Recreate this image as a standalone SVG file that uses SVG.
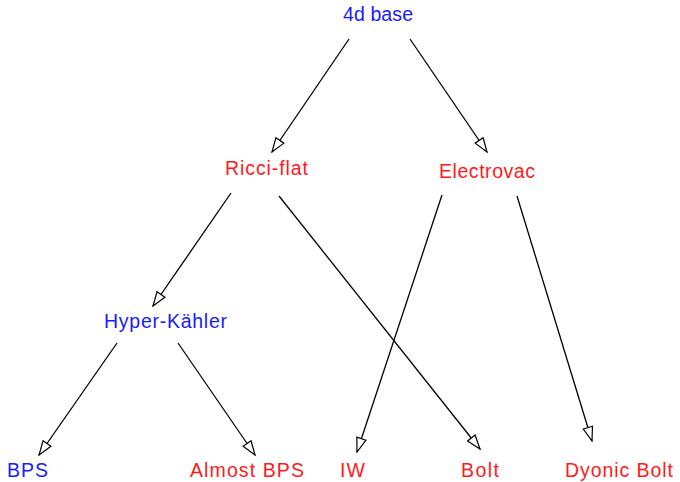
<svg xmlns="http://www.w3.org/2000/svg" width="680" height="482" viewBox="0 0 680 482">
<style>
text{font-family:"Liberation Sans",Arial,sans-serif;font-size:19.5px}
.b{fill:#1a1aff}
.r{fill:#ff1a1a}
.e line{stroke:#000;stroke-width:1.3;fill:none;marker-end:url(#ah)}
</style>
<defs>
<marker id="ah" viewBox="0 0 16 12" refX="15" refY="6" markerWidth="16" markerHeight="12" markerUnits="userSpaceOnUse" orient="auto">
<path d="M1,1.2 L15,6 L1,10.8 Z" fill="#fff" stroke="#000" stroke-width="1.2"/>
</marker>
</defs>
<rect width="680" height="482" fill="#fff"/>
<g id="edges" class="e">
<line x1="349" y1="39" x2="272" y2="152"/>
<line x1="410" y1="39" x2="487" y2="152"/>
<line x1="231" y1="193" x2="153" y2="306"/>
<line x1="279" y1="196" x2="480" y2="449"/>
<line x1="442" y1="195" x2="357" y2="452"/>
<line x1="517" y1="196" x2="592" y2="441"/>
<line x1="117" y1="343" x2="39" y2="455"/>
<line x1="178" y1="343" x2="255" y2="455"/>
</g>
<g id="n-4dbase"><text class="b" x="343" y="21" textLength="70">4d base</text></g>
<g id="n-ricciflat"><text class="r" x="225" y="175" textLength="83">Ricci-flat</text></g>
<g id="n-electrovac"><text class="r" x="439" y="178" textLength="96">Electrovac</text></g>
<g id="n-hyperkahler"><text class="b" x="104" y="328" textLength="123">Hyper-Kähler</text></g>
<g id="n-bps"><text class="b" x="7" y="477" textLength="41">BPS</text></g>
<g id="n-almostbps"><text class="r" x="190" y="477" textLength="114">Almost BPS</text></g>
<g id="n-iw"><text class="r" x="340" y="477" textLength="25">IW</text></g>
<g id="n-bolt"><text class="r" x="461" y="477" textLength="38">Bolt</text></g>
<g id="n-dyonicbolt"><text class="r" x="565" y="477" textLength="108">Dyonic Bolt</text></g>
</svg>
